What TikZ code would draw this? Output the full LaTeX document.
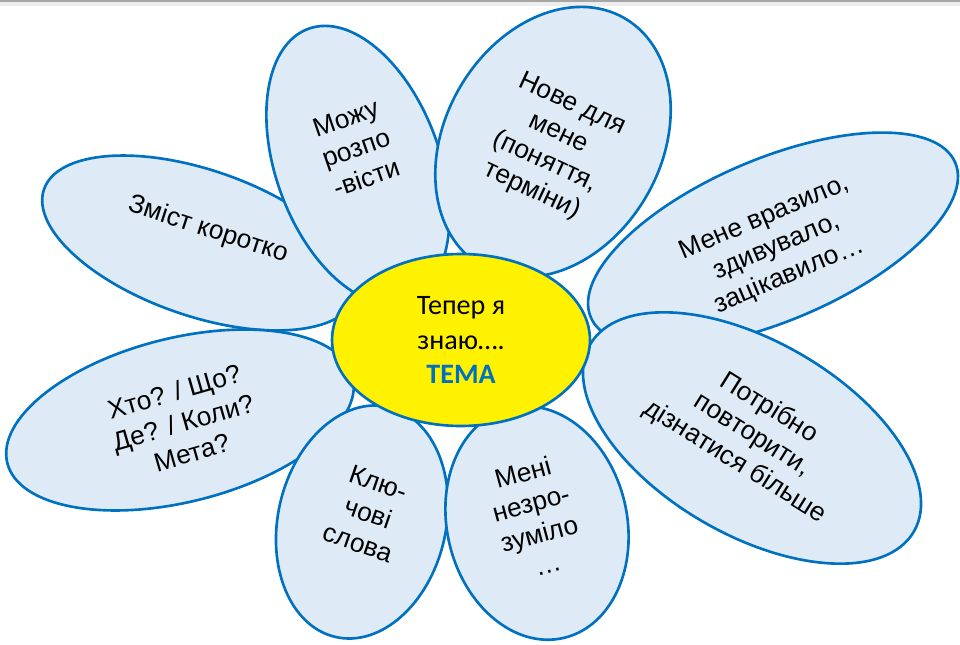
\documentclass[tikz,border=0pt]{standalone}
\usepackage{fontspec}
\setmainfont{Liberation Sans}
\newfontfamily\centerfont{Carlito}
\usepackage{tikz}
\usetikzlibrary{
    shapes.geometric
}
\definecolor{petalfill}{RGB}{222,235,247}
\definecolor{petalline}{RGB}{0,112,192}
\definecolor{temablue}{RGB}{0,112,192}
\tikzset
{
  petal/.style={ellipse,draw=petalline,fill=petalfill,line width=1.5pt,inner sep=0pt},
  core/.style={ellipse,draw=petalline,fill=yellow,line width=1.5pt,inner sep=0pt,
    minimum width=5.16cm,minimum height=3.44cm},
  petaltext/.style={align=center,font=\fontsize{15}{18}\selectfont,inner sep=0pt},
  coretext/.style={align=center,font=\centerfont\fontsize{16}{19.8}\selectfont,inner sep=0pt}
}

\begin{document}
\begin{tikzpicture}[x=0.02cm,y=-0.02cm]

    % Fix the page size
    \useasboundingbox (0,0) rectangle (960,645);

    % Grey bar at the top
    \fill[black!35] (0,0) rectangle (960,2.5);
    \fill[black!7] (0,2.5) rectangle (960,6);

    % Petals, back to front
    \node[petal, minimum width=6.6cm, minimum height=2.92cm, rotate=-19] (zmist) at (200,243) {};
    \node[petal, minimum width=7.12cm, minimum height=3.28cm, rotate=14] (khto) at (180,420) {};
    \node[petal, minimum width=3.28cm, minimum height=5.8cm, rotate=20] (mozhu) at (358,165) {};
    \node[petal, minimum width=7.92cm, minimum height=3.24cm, rotate=23] (vrazylo) at (773,240) {};
    \node[petal, minimum width=4.32cm, minimum height=5.72cm, rotate=-30] (nove) at (553,142) {};
    \node[petal, minimum width=3.36cm, minimum height=4.72cm, rotate=-13] (kliuch) at (362,522) {};
    \node[petal, minimum width=3.6cm, minimum height=4.72cm, rotate=13] (neznaiu) at (537,523) {};
    \node[petal, minimum width=7.48cm, minimum height=3.88cm, rotate=-30] (povtor) at (752,438) {};

    % Petal texts
    \node[petaltext, rotate=-18] (zmist-t) at (208,230) {Зміст коротко};
    \node[petaltext, rotate=16] (khto-t) at (183,422) {Хто? / Що?\\Де? / Коли?\\Мета?};
    \node[petaltext, rotate=19] (mozhu-t) at (356,148) {Можу\\розпо\\-вісти};
    \node[petaltext, rotate=23] (vrazylo-t) at (777,247) {Мене вразило,\\здивувало,\\зацікавило…};
    \node[petaltext, rotate=-25] (nove-t) at (552,148) {Нове для\\мене\\(поняття,\\терміни)};
    \node[petaltext, rotate=-19] (kliuch-t) at (368,513) {Клю-\\чові\\слова};
    \node[petaltext, rotate=15] (neznaiu-t) at (535,518) {Мені\\незро-\\зуміло\\…};
    \node[petaltext, rotate=-32] (povtor-t) at (752,435) {Потрібно\\повторити,\\дізнатися більше};

    % Centre of the flower
    \node[core] (core) at (461,340) {};
    \node[coretext] (core-t) at (461,340) {Тепер я\\знаю….\\{\bfseries\color{temablue}ТЕМА}};

\end{tikzpicture}
\end{document}
